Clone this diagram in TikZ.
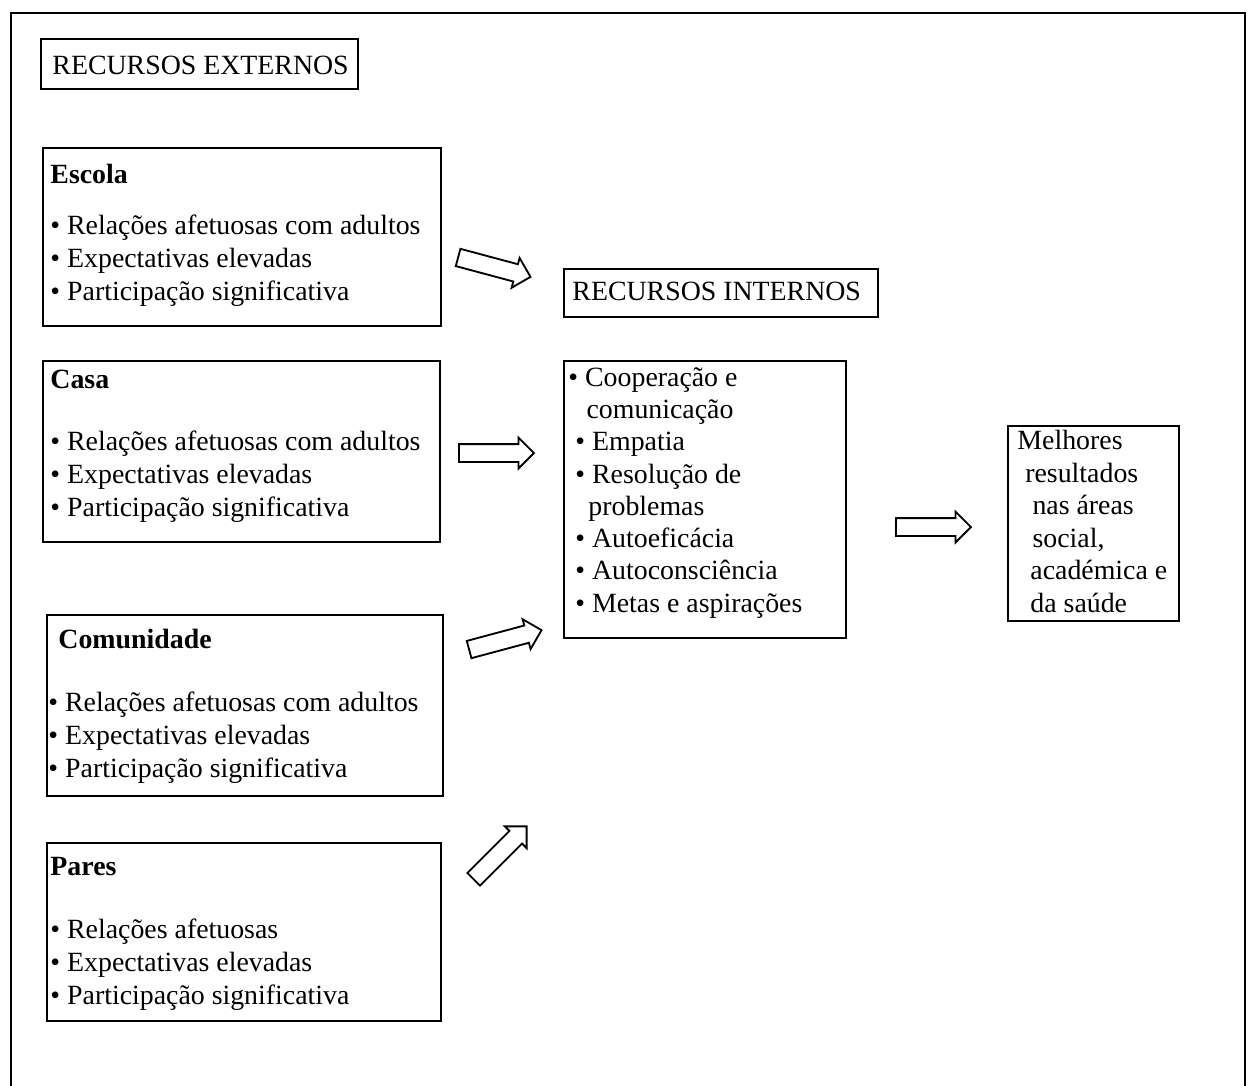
\documentclass[tikz,border=0pt]{standalone}
\usepackage{fontspec}
\setmainfont{Liberation Serif}
\usetikzlibrary{shapes.arrows}
\tikzset{
  panel/.style={draw, line width=0.8pt, inner sep=0pt, anchor=north west},
  boxsize/.style 2 args={minimum width=#1*0.431pt, minimum height=#2*0.431pt},
  head/.style={anchor=base west, inner sep=0pt, font=\fontsize{12}{14.2}\selectfont},
  items/.style={anchor=base west, inner sep=0pt, align=left, font=\fontsize{12}{14.2}\selectfont},
  blockarrow/.style={single arrow, draw, line width=0.8pt, inner sep=3.45pt,
    single arrow head extend=2.8pt, minimum height=32.3pt},
}
\begin{document}
\begin{tikzpicture}[x=0.431pt, y=-0.431pt]
\useasboundingbox (0,0) rectangle (1251,1086);
\node[panel, boxsize={1234}{1120}] (page) at (10,12) {};
\node[panel, boxsize={317}{50}] (externos) at (40,38) {};
\node[head] (externos title) at (52,74) {RECURSOS EXTERNOS};
\node[panel, boxsize={398}{178}] (escola) at (42,147) {};
\node[head] (escola title) at (50,183) {\textbf{Escola}};
\node[items] (escola list) at (50,300) {• Relações afetuosas com adultos\\• Expectativas elevadas\\• Participação significativa};
\node[panel, boxsize={397}{181}] (casa) at (42,360) {};
\node[head] (casa title) at (50,388) {\textbf{Casa}};
\node[items] (casa list) at (50,516) {• Relações afetuosas com adultos\\• Expectativas elevadas\\• Participação significativa};
\node[panel, boxsize={396}{181}] (comunidade) at (46,614) {};
\node[head] (comunidade title) at (58,648) {\textbf{Comunidade}};
\node[items] (comunidade list) at (48,777) {• Relações afetuosas com adultos\\• Expectativas elevadas\\• Participação significativa};
\node[panel, boxsize={394}{178}] (pares) at (46,842) {};
\node[head] (pares title) at (50,875) {\textbf{Pares}};
\node[items] (pares list) at (50,1004) {• Relações afetuosas\\• Expectativas elevadas\\• Participação significativa};
\node[panel, boxsize={314}{48}] (internos) at (563,268) {};
\node[head] (internos title) at (572,300) {RECURSOS INTERNOS};
\node[panel, boxsize={282}{277}] (competencias) at (563,360) {};
\node[items, font=\fontsize{12}{13.9}\selectfont] (competencias list) at (568,612) {• Cooperação e\\
\hspace*{7.8pt}comunicação\\
\hspace*{3pt}• Empatia\\
\hspace*{3pt}• Resolução de\\
\hspace*{8.6pt}problemas\\
\hspace*{3pt}• Autoeficácia\\
\hspace*{3pt}• Autoconsciência\\
\hspace*{3pt}• Metas e aspirações};
\node[panel, boxsize={171}{195}] (resultados) at (1007,425) {};
\node[items, font=\fontsize{12}{14}\selectfont] (resultados list) at (1017,612) {Melhores\\
\hspace*{3.4pt}resultados\\
\hspace*{6.5pt}nas áreas\\
\hspace*{6.5pt}social,\\
\hspace*{5.6pt}académica e\\
\hspace*{5.6pt}da saúde};
\node[blockarrow, rotate=-15] (arrow escola) at (490,266) {};
\node[blockarrow] (arrow casa) at (492,453) {};
\node[blockarrow, rotate=15] (arrow comunidade) at (501,641) {};
\node[blockarrow, rotate=45] (arrow pares) at (497,856) {};
\node[blockarrow] (arrow resultados) at (929,527) {};
\end{tikzpicture}
\end{document}
